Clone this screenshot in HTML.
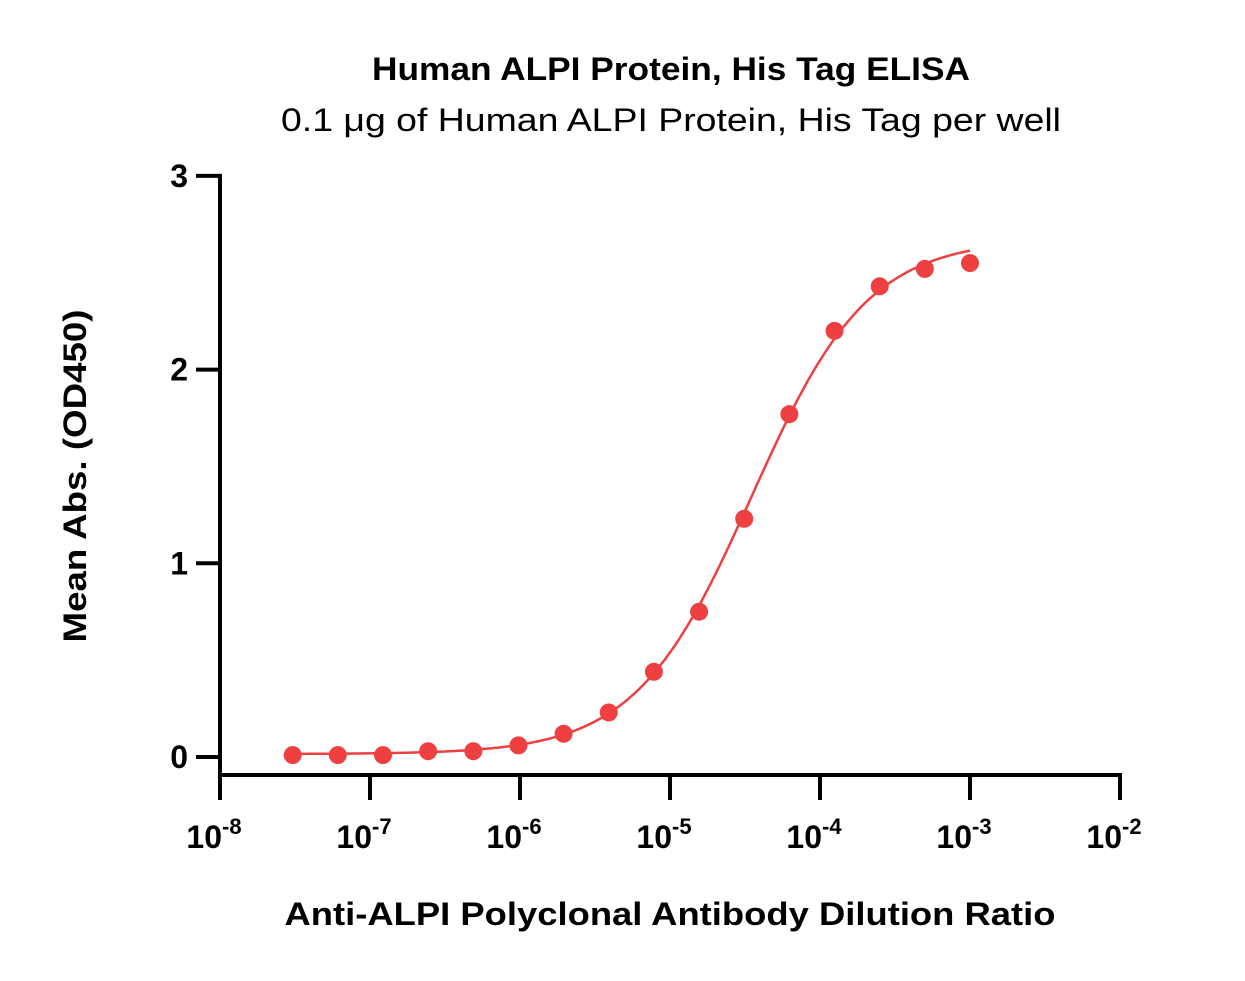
<!DOCTYPE html>
<html><head><meta charset="utf-8">
<style>
html,body{margin:0;padding:0;background:#fff;}
svg{display:block;font-family:"Liberation Sans","DejaVu Sans",sans-serif;}
</style></head>
<body>
<svg id="chart" width="1245" height="981" viewBox="0 0 1245 981" xmlns="http://www.w3.org/2000/svg">
<text x="671" y="80" text-anchor="middle" font-size="32" font-weight="bold" textLength="598" lengthAdjust="spacingAndGlyphs">Human ALPI Protein, His Tag ELISA</text>
<text x="671" y="131" text-anchor="middle" font-size="32" textLength="780" lengthAdjust="spacingAndGlyphs">0.1 μg of Human ALPI Protein, His Tag per well</text>
<text transform="translate(86,476) rotate(-90)" text-anchor="middle" font-size="32" font-weight="bold" textLength="333" lengthAdjust="spacingAndGlyphs">Mean Abs. (OD450)</text>
<text x="670" y="925" text-anchor="middle" font-size="32" font-weight="bold" textLength="771" lengthAdjust="spacingAndGlyphs">Anti-ALPI Polyclonal Antibody Dilution Ratio</text>
<g id="axes"></g>
<g id="marks"></g>
</svg>
<script>
const xValues=[1e-3,5e-4,2.5e-4,1.25e-4,6.25e-5,3.125e-5,1.5625e-5,7.8125e-6,3.90625e-6,1.953125e-6,9.765625e-7,4.8828125e-7,2.44140625e-7,1.220703125e-7,6.103515625e-8,3.0517578125e-8];
const yValues=[2.55,2.52,2.43,2.20,1.77,1.23,0.75,0.44,0.23,0.12,0.06,0.03,0.03,0.01,0.01,0.01];
const yTicks=[0,1,2,3];
const xTickExps=[-8,-7,-6,-5,-4,-3,-2];
const fitBottom=0.015, fitTop=2.66, fitEC50=3.5e-5, fitHill=1.12;

const NS="http://www.w3.org/2000/svg";
const X0=220, DEC=150, Y0=757, YU=193.7;
const xs=v=>X0+(Math.log10(v)+8)*DEC;
const ys=v=>Y0-v*YU;
function mk(tag,attrs,parent){const e=document.createElementNS(NS,tag);for(const k in attrs)e.setAttribute(k,attrs[k]);parent.appendChild(e);return e;}
const axes=document.getElementById('axes'), marks=document.getElementById('marks');

let yl=mk('line',{x1:X0,y1:ys(3)-2,x2:X0,y2:777,stroke:'#000','stroke-width':4},axes);


let xl=mk('line',{x1:X0-2,y1:775,x2:1122,y2:775,stroke:'#000','stroke-width':4},axes);



yTicks.forEach(t=>{
  const tk=mk('line',{x1:196,y1:ys(t),x2:X0,y2:ys(t),stroke:'#000','stroke-width':4},axes);
  
  
  const lb=mk('text',{x:188,y:ys(t)+11,'text-anchor':'end','font-size':32,'font-weight':'bold'},axes);
  lb.textContent=t;
  
  
});
xTickExps.forEach(e=>{
  const x=xs(Math.pow(10,e));
  const tk=mk('line',{x1:x,y1:775,x2:x,y2:800,stroke:'#000','stroke-width':4},axes);
  
  
  const lb=mk('text',{x:x-6,y:848,'text-anchor':'middle','font-size':32,'font-weight':'bold'},axes);
  
  
  lb.textContent='10';
  const sp=mk('tspan',{dy:-14,'font-size':22},lb);
  sp.textContent=String(e);
});

const lo=Math.log10(Math.min(...xValues)), hi=Math.log10(Math.max(...xValues));
let d='';
for(let i=0;i<=200;i++){
  const lx=lo+(hi-lo)*i/200, v=Math.pow(10,lx);
  const r=Math.pow(v/fitEC50,fitHill);
  const y=fitBottom+fitTop*r/(1+r);
  d+=(i?'L':'M')+xs(v).toFixed(1)+','+ys(y).toFixed(1);
}
const curve=mk('path',{d:d,fill:'none',stroke:'#ee4040','stroke-width':2.5},marks);


xValues.forEach((v,i)=>{
  const c=mk('circle',{cx:xs(v),cy:ys(yValues[i]),r:9,fill:'#ee4040'},marks);
  
  
});
</script>
</body></html>
